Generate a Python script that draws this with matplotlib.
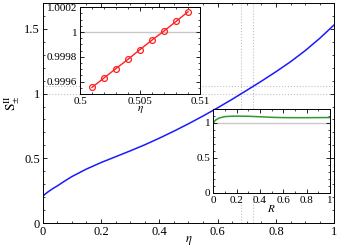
import numpy as np
import matplotlib
matplotlib.use("Agg")
import matplotlib.pyplot as plt
from matplotlib.ticker import MultipleLocator, FixedLocator, FixedFormatter

plt.rcParams['font.family'] = ['Liberation Serif', 'DejaVu Serif']
plt.rcParams['mathtext.fontset'] = 'stix'

# main curve S_pm^II versus eta
eta = [0.0, 0.005, 0.01, 0.02, 0.035, 0.05, 0.075, 0.1, 0.15, 0.2, 0.25, 0.3, 0.35, 0.4,
       0.45, 0.5, 0.55, 0.6, 0.65, 0.7, 0.75, 0.8, 0.85, 0.9, 0.95, 1.0]
s_main = [0.205, 0.218, 0.228, 0.245, 0.268, 0.288, 0.325, 0.36, 0.418, 0.468, 0.513, 0.558,
          0.605, 0.656, 0.71, 0.767, 0.827, 0.89, 0.956, 1.025, 1.095, 1.168, 1.245, 1.33,
          1.425, 1.53]

# dotted guide lines
eta_marks = [0.681, 0.72]
s_marks = [1.0, 1.055]

# zoom inset (red)
eta_zoom = [0.501, 0.502, 0.503, 0.504, 0.505, 0.506, 0.507, 0.508, 0.509]
s_zoom = [0.999554, 0.99963, 0.999706, 0.99978, 0.999859, 0.999935, 1.000008, 1.000085, 1.000163]

# R inset (green)
r_vals = [0.0, 0.02, 0.05, 0.1, 0.15, 0.2, 0.3, 0.4, 0.5, 0.6, 0.7, 0.8, 0.9, 1.0]
s_r = [1.0, 1.04, 1.07, 1.09, 1.095, 1.097, 1.095, 1.088, 1.08, 1.076, 1.075, 1.075, 1.076, 1.077]

fig = plt.figure(figsize=(3.39, 2.47), dpi=100)

def style(ax, fs):
    ax.tick_params(which='both', direction='in', top=True, right=True, labelsize=fs, pad=2)
    ax.tick_params(which='major', length=3, width=0.6)
    ax.tick_params(which='minor', length=1.6, width=0.5)
    for sp in ax.spines.values():
        sp.set_linewidth(0.7)

ax = fig.add_axes([0.126, 0.096, 0.860, 0.893])
for e in eta_marks:
    ax.axvline(e, color='#c0c0c0', ls=':', lw=0.8, zorder=0)
for s in s_marks:
    ax.axhline(s, color='#c0c0c0', ls=':', lw=0.8, zorder=0)
ax.plot(eta, s_main, color='#1a1aff', lw=1.1)
ax.set_xlim(0, 1)
ax.set_ylim(0, 1.7)
ax.xaxis.set_major_locator(FixedLocator([0, 0.2, 0.4, 0.6, 0.8, 1.0]))
ax.xaxis.set_major_formatter(FixedFormatter(['0', '0.2', '0.4', '0.6', '0.8', '1']))
ax.yaxis.set_major_locator(FixedLocator([0, 0.5, 1.0, 1.5]))
ax.yaxis.set_major_formatter(FixedFormatter(['0', '0.5', '1', '1.5']))
ax.xaxis.set_minor_locator(MultipleLocator(0.05))
ax.yaxis.set_minor_locator(MultipleLocator(0.1))
style(ax, 9)
ax.set_xlabel(r'$\eta$', fontsize=9)
ax.xaxis.set_label_coords(0.5, -0.05)
ax.set_ylabel(r'$\mathrm{S}_{\pm}^{\mathrm{II}}$', fontsize=9.5)
ax.yaxis.set_label_coords(-0.07, 0.545)

# inset 1
a1 = fig.add_axes([0.236, 0.619, 0.354, 0.352])
a1.axhline(1.0, color='#c8c8c8', lw=1.0, zorder=0)
a1.plot(eta_zoom, s_zoom, color='#ff2020', lw=1.0, marker='o', ms=4.2,
        mfc='none', mec='#ff2020', mew=0.9)
a1.set_xlim(0.5, 0.51)
a1.set_ylim(0.9995, 1.0002)
a1.xaxis.set_major_locator(FixedLocator([0.5, 0.505, 0.51]))
a1.xaxis.set_major_formatter(FixedFormatter(['0.5', '0.505', '0.51']))
a1.yaxis.set_major_locator(FixedLocator([0.9996, 0.9998, 1.0, 1.0002]))
a1.yaxis.set_major_formatter(FixedFormatter(['0.9996', '0.9998', '1', '1.0002']))
a1.xaxis.set_minor_locator(MultipleLocator(0.001))
a1.yaxis.set_minor_locator(MultipleLocator(0.00005))
style(a1, 8)
a1.set_xlabel(r'$\eta$', fontsize=8, labelpad=-1)

# inset 2
a2 = fig.add_axes([0.629, 0.219, 0.344, 0.340])
a2.axhline(1.0, color='#c8c8c8', lw=1.0, zorder=0)
a2.plot(r_vals, s_r, color='#2e9a2e', lw=1.1)
a2.set_xlim(0, 1)
a2.set_ylim(0, 1.2)
a2.xaxis.set_major_locator(FixedLocator([0, 0.2, 0.4, 0.6, 0.8, 1.0]))
a2.xaxis.set_major_formatter(FixedFormatter(['0', '0.2', '0.4', '0.6', '0.8', '1']))
a2.yaxis.set_major_locator(FixedLocator([0, 0.5, 1.0]))
a2.yaxis.set_major_formatter(FixedFormatter(['0', '0.5', '1']))
a2.xaxis.set_minor_locator(MultipleLocator(0.1))
a2.yaxis.set_minor_locator(MultipleLocator(0.1))
style(a2, 8)
a2.set_xlabel(r'$R$', fontsize=8, labelpad=-1)

fig.savefig('out.png', dpi=100)
